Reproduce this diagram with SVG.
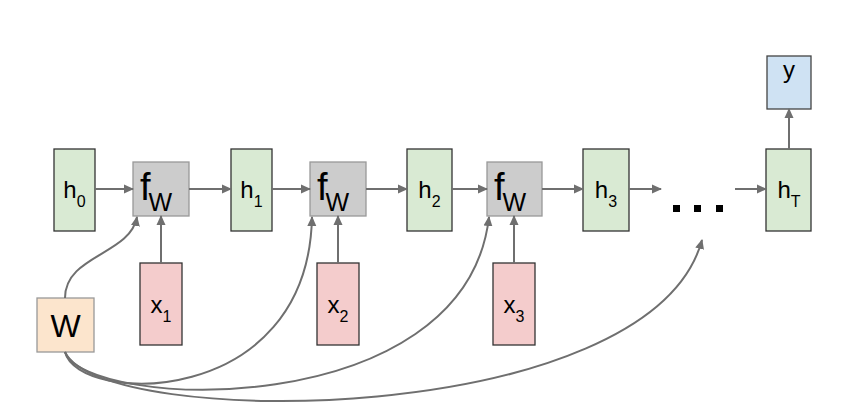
<svg xmlns="http://www.w3.org/2000/svg" width="856" height="407" viewBox="0 0 856 407">
<defs>
<marker id="ah" markerWidth="10" markerHeight="10" refX="9" refY="5" orient="auto" markerUnits="userSpaceOnUse">
<path d="M0,0.5 L10,5 L0,9.5 Z" fill="#6f6f6f"/>
</marker>
<style>
.h{fill:#d9ead3;stroke:#333;stroke-width:1.3}
.f{fill:#cccccc;stroke:#999;stroke-width:1.3}
.x{fill:#f4cccc;stroke:#333;stroke-width:1.3}
.y{fill:#cfe2f3;stroke:#444;stroke-width:1.3}
.w{fill:#fce5cd;stroke:#999;stroke-width:1.3}
text{font-family:"Liberation Sans",Arial,sans-serif;fill:#000}
.c{stroke:#6f6f6f;stroke-width:2;fill:none;marker-end:url(#ah)}
</style>
</defs>
<rect width="856" height="407" fill="#fff"/>
<g id="h0"><rect class="h" x="54" y="149" width="41" height="82"/><text x="74.5" y="198" font-size="24" text-anchor="middle">h<tspan dy="9" font-size="16">0</tspan></text></g>
<g id="fw1"><rect class="f" x="133" y="162" width="56" height="54"/><text x="140" y="200" font-size="38">f<tspan dx="-2" dy="11" font-size="25">W</tspan></text></g>
<g id="h1"><rect class="h" x="231" y="149" width="41" height="82"/><text x="251.5" y="198" font-size="24" text-anchor="middle">h<tspan dy="9" font-size="16">1</tspan></text></g>
<g id="fw2"><rect class="f" x="310" y="162" width="56" height="54"/><text x="317" y="200" font-size="38">f<tspan dx="-2" dy="11" font-size="25">W</tspan></text></g>
<g id="h2"><rect class="h" x="407" y="149" width="45" height="82"/><text x="429.5" y="198" font-size="24" text-anchor="middle">h<tspan dy="9" font-size="16">2</tspan></text></g>
<g id="fw3"><rect class="f" x="487" y="162" width="55" height="54"/><text x="494" y="200" font-size="38">f<tspan dx="-2" dy="11" font-size="25">W</tspan></text></g>
<g id="h3"><rect class="h" x="583" y="149" width="46" height="82"/><text x="606" y="198" font-size="24" text-anchor="middle">h<tspan dy="9" font-size="16">3</tspan></text></g>
<g id="hT"><rect class="h" x="766" y="149" width="45" height="82"/><text x="789" y="198" font-size="24" text-anchor="middle">h<tspan dy="9" font-size="16">T</tspan></text></g>
<g id="y"><rect class="y" x="767" y="56" width="44" height="53"/><text x="789" y="78" font-size="24" text-anchor="middle">y</text></g>
<g id="x1"><rect class="x" x="140" y="263" width="42" height="82"/><text x="161" y="313" font-size="24" text-anchor="middle">x<tspan dy="9" font-size="16">1</tspan></text></g>
<g id="x2"><rect class="x" x="317" y="263" width="42" height="82"/><text x="338" y="313" font-size="24" text-anchor="middle">x<tspan dy="9" font-size="16">2</tspan></text></g>
<g id="x3"><rect class="x" x="493" y="263" width="42" height="82"/><text x="514" y="313" font-size="24" text-anchor="middle">x<tspan dy="9" font-size="16">3</tspan></text></g>
<g id="W"><rect class="w" x="37" y="298" width="57" height="54"/><text x="65.5" y="337" font-size="32" text-anchor="middle">W</text></g>
<g id="dots" fill="#000"><rect x="673" y="205" width="7" height="7"/><rect x="694" y="205" width="7" height="7"/><rect x="716" y="205" width="7" height="7"/></g>
<g id="connectors">
<path class="c" d="M95,189 H133"/>
<path class="c" d="M189,189 H231"/>
<path class="c" d="M272,189 H310"/>
<path class="c" d="M366,189 H407"/>
<path class="c" d="M452,189 H487"/>
<path class="c" d="M542,189 H583"/>
<path class="c" d="M629,189 H661"/>
<path class="c" d="M735,189 H766"/>
<path class="c" d="M789,149 V109"/>
<path class="c" d="M161,263 V216"/>
<path class="c" d="M338,263 V216"/>
<path class="c" d="M514,263 V216"/>
<path class="c" d="M65,298 C65,255 130,255 137,217"/>
<path class="c" d="M65,352 C78,405 308,410 312,217"/>
<path class="c" d="M65,352 C85,410 465,425 489,217"/>
<path class="c" d="M65,352 C100,430 650,430 702,240"/>
</g>
</svg>
